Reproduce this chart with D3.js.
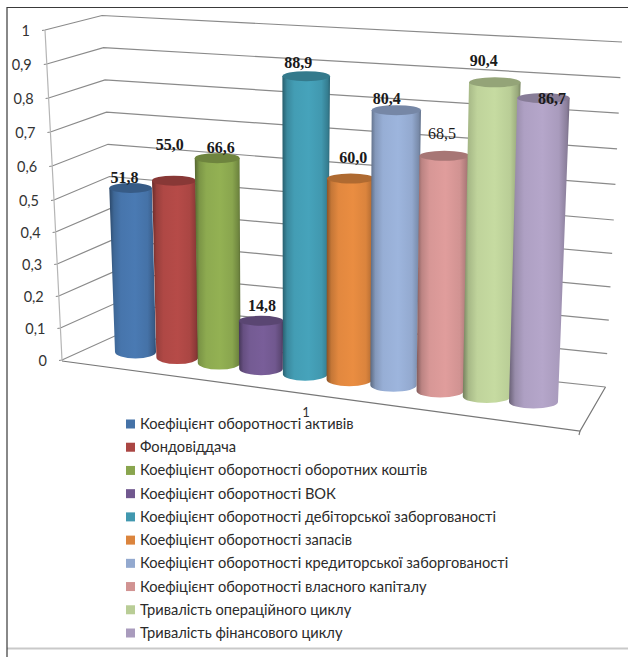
<!DOCTYPE html>
<html>
<head>
<meta charset="utf-8">
<script src="https://cdnjs.cloudflare.com/ajax/libs/d3/7.8.5/d3.min.js"></script>
<style>
  html, body { margin: 0; padding: 0; background: #fff; }
  svg { display: block; }
</style>
</head>
<body>
<svg id="chart"></svg>
<script>
const seriesNames = [
  'Коефіцієнт оборотності активів',
  'Фондовіддача',
  'Коефіцієнт оборотності оборотних коштів',
  'Коефіцієнт оборотності ВОК',
  'Коефіцієнт оборотності дебіторської заборгованості',
  'Коефіцієнт оборотності запасів',
  'Коефіцієнт оборотності кредиторської заборгованості',
  'Коефіцієнт оборотності власного капіталу',
  'Тривалість операційного циклу',
  'Тривалість фінансового циклу'
];
// the printed labels
const seriesValues = [51.8, 55.0, 66.6, 14.8, 88.9, 60.0, 80.4, 68.5, 90.4, 86.7];
// height of each cylinder read against the 0..1 axis
const barLevels = [0.519, 0.553, 0.633, 0.146, 0.899, 0.6, 0.811, 0.685, 0.905, 0.866];
const seriesColors = ['#4572a7', '#aa4643', '#89a54e', '#71588f', '#4198af', '#db843d', '#93a9cf', '#d19392', '#b9cd96', '#a99bbd'];
const axisTicks = [0, 0.1, 0.2, 0.3, 0.4, 0.5, 0.6, 0.7, 0.8, 0.9, 1];
const categoryLabel = '1';

const width = 628, height = 657;
const uiFont = 'Lato, "Open Sans", sans-serif';

const svg = d3.select('#chart')
  .attr('width', width)
  .attr('height', height);

// the frame
svg.append('line')
  .attr('x1', 7).attr('x2', 628)
  .attr('y1', 648.5).attr('y2', 648.5)
  .attr('stroke', '#c9c9c9')
  .attr('stroke-width', 2);
svg.append('path')
  .attr('d', 'M7,657V7.5H628')
  .attr('fill', 'none')
  .attr('stroke', '#3a3a3a')
  .attr('stroke-width', 1.2);

// the three upright edges of the 3d box, each one maps axis value to pixels
// the middle stop is there because perspective squeezes the lower half a bit
function edge(xs, ys) {
  return {
    x: d3.scaleLinear().domain([0, 0.5, 1]).range(xs),
    y: d3.scaleLinear().domain([0, 0.5, 1]).range(ys)
  };
}
const frontLeft = edge([62, 54, 45], [360, 200, 30]);
const backLeft = edge([117, 109.5, 102], [335, 176.5, 15.5]);
const backRight = edge([605.5, 613.8, 622], [387, 220, 42]);
const frontRight = [580, 431];

let walls = svg.append('g')
  .attr('class', 'walls')
  .attr('fill', 'none')
  .attr('stroke', '#8a8a8a')
  .attr('stroke-width', 1.2);

// GRIDLINES
walls.selectAll('path.grid')
  .data(axisTicks)
  .enter().append('path')
    .attr('class', 'grid')
    .attr('d', (d) => d3.line()([
      [frontLeft.x(d) - 3, frontLeft.y(d) + 0.5],
      [frontLeft.x(d), frontLeft.y(d)],
      [backLeft.x(d), backLeft.y(d)],
      [backRight.x(d), backRight.y(d)]
    ]));

// upright left edge
walls.append('path')
  .attr('d', d3.line()(axisTicks.map((d) => [frontLeft.x(d), frontLeft.y(d)])))
  .attr('stroke', '#b5b5b5');

// floor
walls.append('path')
  .attr('d', d3.line()([
    [frontLeft.x(0), frontLeft.y(0) + 1],
    frontRight,
    [backRight.x(0), backRight.y(0)]
  ]))
  .attr('stroke', '#777');
walls.append('path')
  .attr('d', d3.line()([frontRight, [frontRight[0] - 1, frontRight[1] + 4]]))
  .attr('stroke', '#777');

// Y labels
svg.append('g')
  .attr('class', 'axis-y')
  .selectAll('text')
  .data(axisTicks)
  .enter().append('text')
    .attr('x', (d) => frontLeft.x(d) - 15)
    .attr('y', (d) => frontLeft.y(d) + 6)
    .attr('text-anchor', 'end')
    .attr('font-family', uiFont)
    .attr('font-size', 14.5)
    .attr('fill', '#333')
    .text((d) => String(d).replace('.', ','));

// BARS
const index = seriesValues.map((d, i) => i);
const baseX = d3.scaleLinear().domain([0, 3, 6, 9]).range([135.5, 261, 393.5, 533.5]);
const baseY = d3.scaleLinear().domain([0, 9]).range([352, 402]);
const topX = d3.scaleLinear().domain([0, 3, 6, 9]).range([126, 261, 397, 545]);
const topY = d3.scaleLinear().domain([0, 9]).range([36, 51]);
const baseW = d3.scaleLinear().domain([0, 9]).range([41, 49]);
const topW = d3.scaleLinear().domain([0, 9]).range([44, 53]);

function barGeometry(v, i) {
  let wBase = baseW(i);
  let wTop = d3.interpolateNumber(wBase, topW(i))(v);
  return {
    x0: baseX(i),
    y0: baseY(i),
    x1: d3.interpolateNumber(baseX(i), topX(i))(v),
    y1: d3.interpolateNumber(baseY(i), topY(i))(v),
    r0: wBase / 2,
    r1: wTop / 2,
    ry0: 6.5,
    ry1: 5
  };
}

let defs = svg.append('defs');
let gradients = defs.selectAll('linearGradient')
  .data(seriesColors)
  .enter().append('linearGradient')
    .attr('id', (d, i) => `cyl-${i}`);

const bodyStops = [
  { offset: 0, tone: 0.62 },
  { offset: 0.1, tone: 0.9 },
  { offset: 0.25, tone: 1.03 },
  { offset: 0.55, tone: 1.07 },
  { offset: 0.82, tone: 1 },
  { offset: 0.95, tone: 0.82 },
  { offset: 1, tone: 0.66 }
];

function tone(color, k) {
  let c = d3.rgb(color);
  return d3.rgb(Math.min(255, c.r * k), Math.min(255, c.g * k), Math.min(255, c.b * k)).formatHex();
}

gradients.selectAll('stop')
  .data((c) => bodyStops.map((s) => ({ offset: s.offset, color: tone(c, s.tone) })))
  .enter().append('stop')
    .attr('offset', (d) => d.offset)
    .attr('stop-color', (d) => d.color);

let bars = svg.append('g')
  .attr('class', 'bars')
  .selectAll('g')
  .data(index)
  .enter().append('g');

bars.append('path')
  .attr('fill', (i) => `url(#cyl-${i})`)
  .attr('d', (i) => {
    let b = barGeometry(barLevels[i], i);
    return `M${b.x1 - b.r1},${b.y1}L${b.x0 - b.r0},${b.y0}` +
      `A${b.r0},${b.ry0} 0 0 0 ${b.x0 + b.r0},${b.y0}` +
      `L${b.x1 + b.r1},${b.y1}Z`;
  });

bars.append('ellipse')
  .attr('fill', (i) => tone(seriesColors[i], 0.8))
  .attr('cx', (i) => barGeometry(barLevels[i], i).x1)
  .attr('cy', (i) => barGeometry(barLevels[i], i).y1)
  .attr('rx', (i) => barGeometry(barLevels[i], i).r1)
  .attr('ry', (i) => barGeometry(barLevels[i], i).ry1);

// data labels were dragged by hand in the original, so each has its own nudge
const labelNudge = [[-6, -4.5], [-4, -30.5], [3.5, -5.5], [1, -9.5], [-8, -8.5], [2.5, -15.5], [-9.5, -6.5], [-2.5, -16.5], [-11, -16.5], [8.5, 5.5]];

svg.append('g')
  .attr('class', 'labels')
  .selectAll('text')
  .data(index)
  .enter().append('text')
    .attr('x', (i) => barGeometry(barLevels[i], i).x1 + labelNudge[i][0])
    .attr('y', (i) => barGeometry(barLevels[i], i).y1 + labelNudge[i][1])
    .attr('text-anchor', 'middle')
    .attr('font-family', '"Liberation Serif", serif')
    .attr('font-weight', (i) => (i === 7 ? 'normal' : 'bold'))
    .attr('font-size', 16)
    .attr('fill', '#1a1a1a')
    .text((i) => seriesValues[i].toFixed(1).replace('.', ','));

// category label
svg.append('text')
  .attr('x', 306)
  .attr('y', 417)
  .attr('text-anchor', 'middle')
  .attr('font-family', uiFont)
  .attr('font-size', 13)
  .attr('fill', '#333')
  .text(categoryLabel);

// LEGEND
let legendY = d3.scaleLinear().domain([0, 9]).range([424, 633]);
let legend = svg.append('g')
  .attr('class', 'legend')
  .selectAll('g')
  .data(seriesNames)
  .enter().append('g')
    .attr('transform', (d, i) => `translate(126, ${legendY(i)})`);

legend.append('rect')
  .attr('y', -4.5)
  .attr('width', 9)
  .attr('height', 9)
  .attr('fill', (d, i) => seriesColors[i]);

legend.append('text')
  .attr('x', 14)
  .attr('y', 5)
  .attr('font-family', uiFont)
  .attr('font-size', 14.65)
  .attr('fill', '#2b2b2b')
  .text((d) => d);
</script>
</body>
</html>
